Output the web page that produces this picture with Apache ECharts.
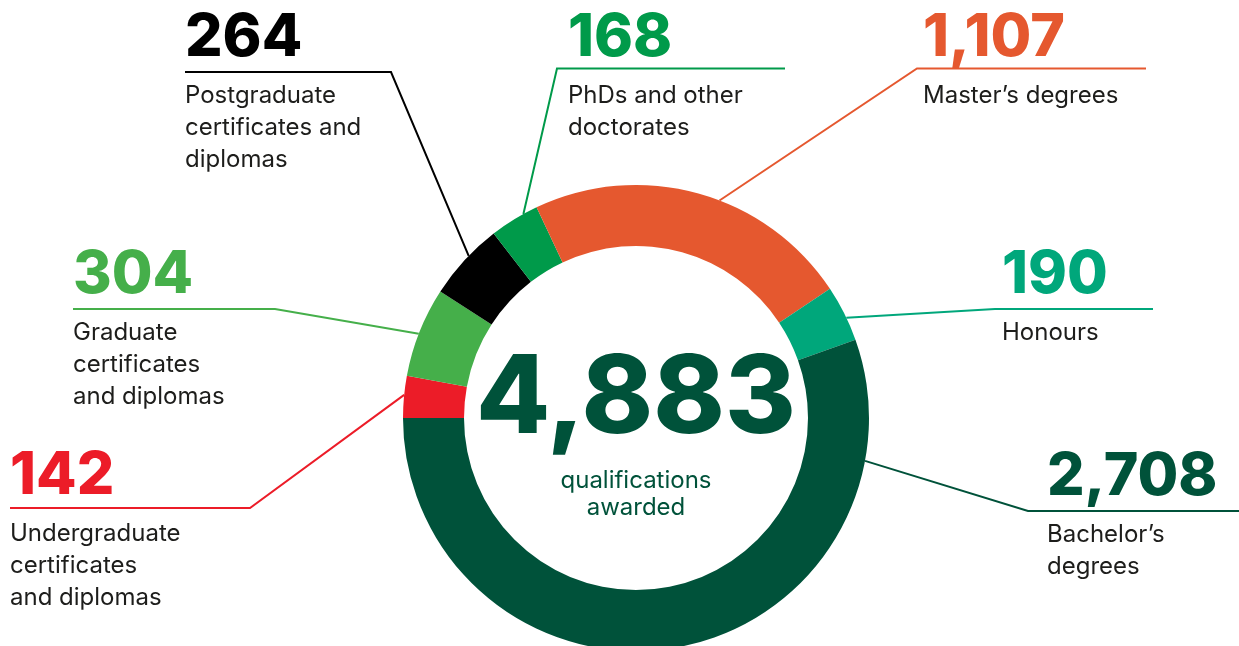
<!DOCTYPE html>
<html>
<head>
<meta charset="utf-8">
<script src="https://cdn.jsdelivr.net/npm/echarts@6/dist/echarts.min.js"></script>
<style>
  html, body { margin: 0; padding: 0; background: #ffffff; }
  #chart { width: 1239px; height: 646px; }
</style>
</head>
<body>
<div id="chart"></div>
<script>
// Qualifications awarded, in clockwise order starting at nine o'clock
const categories = [
  'Undergraduate\ncertificates\nand diplomas',
  'Graduate\ncertificates\nand diplomas',
  'Postgraduate\ncertificates and\ndiplomas',
  'PhDs and other\ndoctorates',
  'Master’s degrees',
  'Honours',
  'Bachelor’s\ndegrees'
];
const values = [142, 304, 264, 168, 1107, 190, 2708];
const sliceColors = ['#EC1C28', '#45AF4A', '#000000', '#009A4A', '#E5582F', '#00A77B', '#00523A'];
const centerCaption = 'qualifications\nawarded';

// Ring geometry
const CX = 636, CY = 418, R_IN = 172, R_OUT = 233;
const DARK = '#00523A';
const TEXT = '#1d1d1b';
const FONT = 'Inter, "Noto Sans", sans-serif';
const NUM_LINE_H = 84;

// Callout placement per slice: text left edge, number centre, rule line, anchor angle on the ring
const labelPlacement = [
  { textX: 10,   numY: 476, ruleY: 508, elbowX: 250,  endX: 10,   anchorDeg: 174.3 },
  { textX: 73,   numY: 275, ruleY: 309, elbowX: 275,  endX: 73,   anchorDeg: 158.8 },
  { textX: 185,  numY: 38,  ruleY: 72,  elbowX: 391,  endX: 185,  anchorDeg: 135.9 },
  { textX: 568,  numY: 38,  ruleY: 68.5, elbowX: 557, endX: 785,  anchorDeg: 118.9 },
  { textX: 923,  numY: 38,  ruleY: 68.5, elbowX: 917, endX: 1146, anchorDeg: 69.0 },
  { textX: 1002, numY: 275, ruleY: 309, elbowX: 995,  endX: 1153, anchorDeg: 25.5 },
  { textX: 1047, numY: 477, ruleY: 511, elbowX: 1028, endX: 1245, anchorDeg: -10.6 }
];

const fmt = v => v.toLocaleString('en-US');
const total = values.reduce((s, v) => s + v, 0);

const chart = echarts.init(document.getElementById('chart'), null, { renderer: 'canvas' });

chart.setOption({
  backgroundColor: '#ffffff',
  animation: false,
  series: [{
    type: 'pie',
    center: [CX, CY],
    radius: [R_IN, R_OUT],
    startAngle: 180,
    clockwise: true,
    avoidLabelOverlap: false,
    silent: true,
    emphasis: { disabled: true, scale: false },
    data: categories.map((name, i) => ({
      name: name,
      value: values[i],
      itemStyle: { color: sliceColors[i] },
      label: {
        rich: {
          num: { color: sliceColors[i] }
        }
      },
      labelLine: { lineStyle: { color: sliceColors[i] } }
    })),
    label: {
      show: true,
      position: 'outside',
      align: 'left',
      formatter: p => '{num|' + fmt(p.value) + '}\n{name|' + p.name + '}',
      rich: {
        num: {
          fontFamily: FONT,
          fontWeight: 800,
          fontSize: 59,
          lineHeight: NUM_LINE_H,
          align: 'left'
        },
        name: {
          fontFamily: FONT,
          fontWeight: 400,
          fontSize: 24,
          lineHeight: 32,
          color: TEXT,
          align: 'left'
        }
      }
    },
    labelLine: {
      show: true,
      smooth: false,
      length: 10,
      length2: 10,
      lineStyle: { width: 2 }
    },
    labelLayout: function (params) {
      const p = labelPlacement[params.dataIndex];
      const a = p.anchorDeg * Math.PI / 180;
      const anchor = [CX + R_OUT * Math.cos(a), CY - R_OUT * Math.sin(a)];
      return {
        x: p.textX,
        y: p.numY - NUM_LINE_H / 2,
        align: 'left',
        verticalAlign: 'top',
        labelLinePoints: [anchor, [p.elbowX, p.ruleY], [p.endX, p.ruleY]]
      };
    }
  }],
  graphic: [
    {
      type: 'text',
      x: CX,
      y: 401,
      silent: true,
      style: {
        text: fmt(total),
        font: '800 108px ' + FONT,
        fill: DARK,
        textAlign: 'center',
        textVerticalAlign: 'middle',
        align: 'center',
        verticalAlign: 'middle'
      }
    },
    {
      type: 'text',
      x: CX,
      y: 494,
      silent: true,
      style: {
        text: centerCaption,
        font: '400 24px ' + FONT,
        lineHeight: 27,
        fill: DARK,
        textAlign: 'center',
        textVerticalAlign: 'middle',
        align: 'center',
        verticalAlign: 'middle'
      }
    }
  ]
});
</script>
</body>
</html>
